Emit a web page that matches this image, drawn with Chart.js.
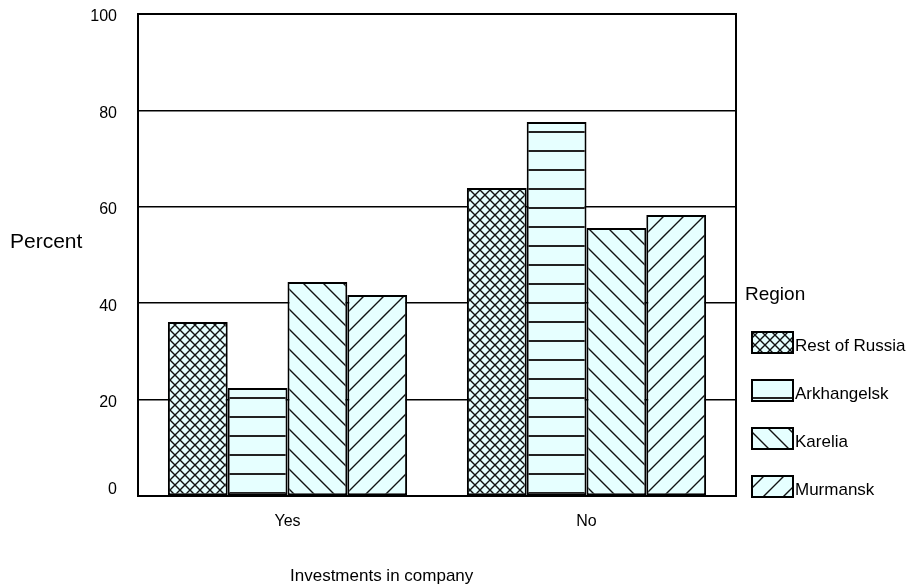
<!DOCTYPE html>
<html>
<head>
<meta charset="utf-8">
<script src="https://cdn.jsdelivr.net/npm/chart.js@4"></script>
<style>
  html, body { margin: 0; padding: 0; background: #fff; }
  #wrap { width: 909px; height: 588px; }
</style>
</head>
<body>
<div id="wrap"><canvas id="myChart" width="909" height="588"></canvas></div>
<script>
const categories = ["Yes", "No"];
const regions = ["Rest of Russia", "Arkhangelsk", "Karelia", "Murmansk"];
const restOfRussia = [36.1, 63.9];
const arkhangelsk = [22.4, 77.6];
const karelia = [44.4, 55.6];
const murmansk = [41.7, 58.3];
const yTicks = [0, 20, 40, 60, 80, 100];

const FILL = "#e6ffff";
const FONT = "'Liberation Sans', Arial, sans-serif";

// pattern tiles
function makePattern(kind) {
  const c = document.createElement("canvas");
  let w = 20, h = 20;
  if (kind === "cross") { w = 10; h = 10; }
  if (kind === "hline") { w = 10; h = 19; }
  c.width = w; c.height = h;
  const g = c.getContext("2d");
  g.fillStyle = FILL;
  g.fillRect(0, 0, w, h);
  g.strokeStyle = "#111";
  g.lineWidth = 1.4;
  g.beginPath();
  if (kind === "cross") {
    g.moveTo(-1, -1); g.lineTo(w + 1, h + 1);
    g.moveTo(w + 1, -1); g.lineTo(-1, h + 1);
  } else if (kind === "hline") {
    g.lineWidth = 2;
    g.strokeStyle = "#222";
    g.moveTo(0, 18); g.lineTo(w, 18);
  } else if (kind === "back") {
    g.moveTo(-2, -2); g.lineTo(w + 2, h + 2);
    g.moveTo(-2 - w, -2); g.lineTo(2, h + 2);
    g.moveTo(w - 2, -2); g.lineTo(2 * w + 2, h + 2);
  } else {
    g.moveTo(-2, h + 2); g.lineTo(w + 2, -2);
    g.moveTo(-2 - w, h + 2); g.lineTo(2, -2);
    g.moveTo(w - 2, h + 2); g.lineTo(2 * w + 2, -2);
  }
  g.stroke();
  return g.createPattern(c, "repeat");
}

const ctx = document.getElementById("myChart").getContext("2d");
const patterns = [makePattern("cross"), makePattern("hline"), makePattern("back"), makePattern("fwd")];
const seriesValues = [restOfRussia, arkhangelsk, karelia, murmansk];

// frame, axis titles and legend
const extras = {
  id: "extras",
  afterDatasetsDraw(chart) {
    const c = chart.ctx;
    const a = chart.chartArea;
    c.save();
    c.strokeStyle = "#000";
    c.lineWidth = 2;
    c.strokeRect(a.left, a.top, a.right - a.left, a.bottom - a.top);
    c.fillStyle = "#000";
    c.textBaseline = "alphabetic";
    c.textAlign = "left";
    c.font = "21px " + FONT;
    c.fillText("Percent", 10, 248);
    c.font = "17px " + FONT;
    c.fillText("Investments in company", 290, 581);
    c.font = "19px " + FONT;
    c.fillText("Region", 745, 300);
    c.font = "17px " + FONT;
    chart.data.datasets.forEach((ds, i) => {
      const y = 332 + i * 48;
      c.fillStyle = ds.backgroundColor;
      c.fillRect(752, y, 41, 21);
      c.lineWidth = 2;
      c.strokeRect(752, y, 41, 21);
      c.fillStyle = "#000";
      c.fillText(ds.label, 795, y + 19);
    });
    c.restore();
  }
};

new Chart(ctx, {
  type: "bar",
  data: {
    labels: categories,
    datasets: regions.map((r, i) => ({
      label: r,
      data: seriesValues[i],
      backgroundColor: patterns[i],
      borderColor: "#000",
      borderWidth: 2,
      borderSkipped: false
    }))
  },
  options: {
    responsive: false,
    animation: false,
    devicePixelRatio: 1,
    layout: { padding: { top: 14, right: 173, left: 0, bottom: 0 } },
    datasets: { bar: { categoryPercentage: 0.8, barPercentage: 1.0 } },
    plugins: { legend: { display: false }, tooltip: { enabled: false } },
    scales: {
      x: {
        grid: { display: false },
        border: { display: false },
        ticks: { color: "#000", font: { family: FONT, size: 16 }, padding: 8 },
        afterFit(s) { s.height = 92; s.paddingLeft = 0; s.paddingRight = 0; }
      },
      y: {
        min: 0,
        max: 100,
        afterBuildTicks(s) { s.ticks = yTicks.map(v => ({ value: v })); },
        grid: { color: "#000", lineWidth: 1.5, drawTicks: false },
        border: { display: false },
        ticks: {
          color: "#000",
          font: { family: FONT, size: 16 },
          padding: 21,
          labelOffset: 3,
          // the 0 label sits just above the axis line
          callback: v => (v === 0 ? ["0", ""] : String(v))
        },
        afterFit(s) { s.width = 138; s.paddingTop = 0; s.paddingBottom = 0; }
      }
    }
  },
  plugins: [extras]
});
</script>
</body>
</html>
